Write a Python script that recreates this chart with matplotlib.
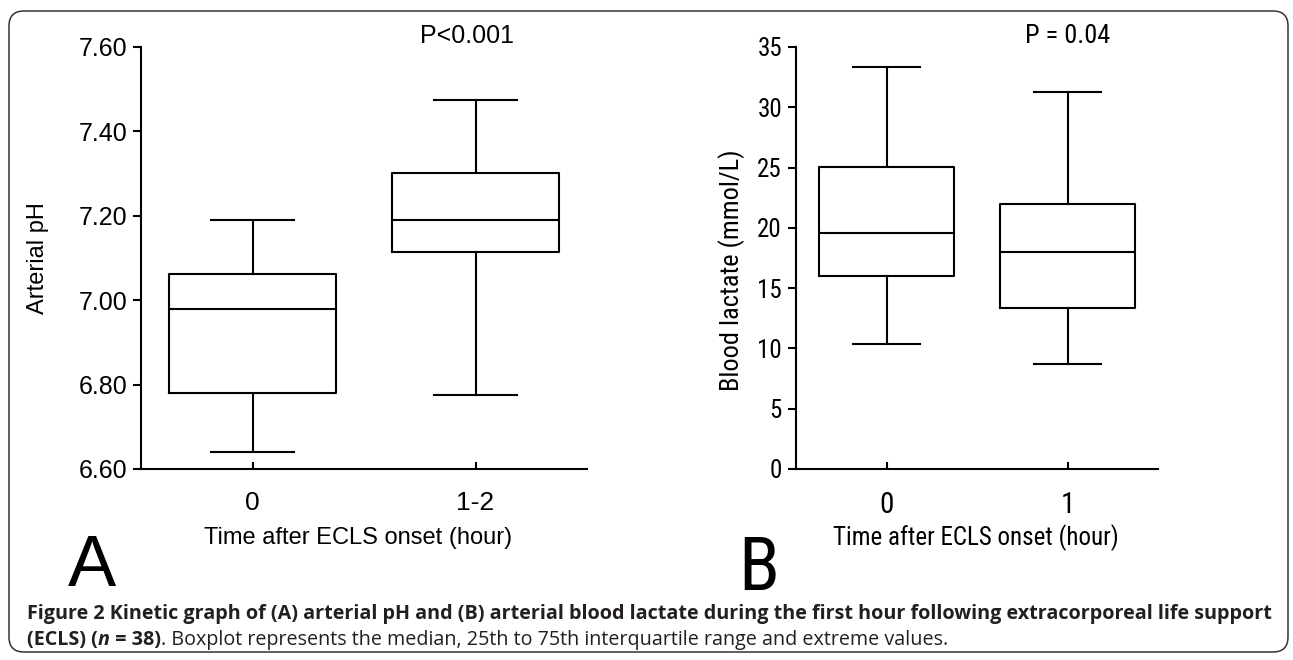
import matplotlib
matplotlib.use('Agg')
import matplotlib.pyplot as plt
from matplotlib import font_manager, transforms
from matplotlib.patches import FancyBboxPatch

# panel A: arterial pH
a_labels = ['0', '1-2']
a_med = [6.98, 7.19]
a_q1 = [6.78, 7.115]
a_q3 = [7.062, 7.302]
a_lo = [6.64, 6.775]
a_hi = [7.19, 7.475]
a_yticks = [6.6, 6.8, 7.0, 7.2, 7.4, 7.6]

# panel B: blood lactate
b_labels = ['0', '1']
b_med = [19.6, 18.0]
b_q1 = [16.0, 13.35]
b_q3 = [25.05, 22.0]
b_lo = [10.4, 8.7]
b_hi = [33.3, 31.3]
b_yticks = [0, 5, 10, 15, 20, 25, 30, 35]


def pick(*names):
    avail = {f.name for f in font_manager.fontManager.ttflist}
    for n in names:
        if n in avail:
            return n
    return 'DejaVu Sans'


sans = pick('Liberation Sans', 'Arial')
narrow = pick('Liberation Sans Narrow', 'Roboto Condensed', 'Liberation Sans')
capfont = pick('Open Sans', 'Noto Sans')

W, H = 1293, 660
fig = plt.figure(figsize=(W / 100, H / 100), dpi=100)


def px_axes(l, r, t, b):
    return fig.add_axes([l / W, 1 - b / H, (r - l) / W, (b - t) / H])


def draw_box(ax, labels, med, q1, q3, lo, hi, yticks, fmt, font, tsize, xsize):
    stats = []
    for i in range(len(labels)):
        stats.append(dict(med=med[i], q1=q1[i], q3=q3[i], whislo=lo[i], whishi=hi[i], fliers=[]))
    lp = dict(color='black', linewidth=1.5)
    ax.bxp(stats, positions=range(len(labels)), widths=0.75, capwidths=0.37,
           showfliers=False, boxprops=lp, whiskerprops=lp, capprops=lp,
           medianprops=lp, manage_ticks=False)
    ax.set_xlim(-0.5, 1.5)
    ax.set_ylim(yticks[0], yticks[-1])
    ax.set_yticks(yticks)
    ax.set_yticklabels([fmt % v for v in yticks], fontfamily=font, fontsize=tsize)
    ax.set_xticks(range(len(labels)))
    ax.set_xticklabels(labels, fontfamily=font, fontsize=xsize)
    ax.tick_params(axis='y', direction='out', length=6, width=1.5, pad=4)
    ax.tick_params(axis='x', direction='in', length=5, width=1.5, pad=16)
    for s in ['top', 'right']:
        ax.spines[s].set_visible(False)
    for s in ['left', 'bottom']:
        ax.spines[s].set_linewidth(1.5)
    ax.patch.set_alpha(0)


axA = px_axes(141, 587, 47, 469)
draw_box(axA, a_labels, a_med, a_q1, a_q3, a_lo, a_hi, a_yticks, '%.2f', sans, 18, 19)
axA.set_xlabel('Time after ECLS onset (hour)', fontfamily=sans, fontsize=17, va='center')
axA.xaxis.set_label_coords(0.487, -0.163)
axA.set_ylabel('Arterial pH', fontfamily=sans, fontsize=17, va='center')
axA.yaxis.set_label_coords(-0.231, 0.5)
axA.text(0.73, 1.025, 'P<0.001', transform=axA.transAxes, ha='center', va='center',
         fontfamily=sans, fontsize=18)

axB = px_axes(796, 1158, 47, 469)
draw_box(axB, b_labels, b_med, b_q1, b_q3, b_lo, b_hi, b_yticks, '%d', narrow, 18, 21)
axB.set_xlabel('Time after ECLS onset (hour)', fontfamily=narrow, fontsize=18, va='center')
axB.xaxis.set_label_coords(0.497, -0.163)
axB.set_ylabel('Blood lactate (mmol/L)', fontfamily=narrow, fontsize=19, va='center')
axB.yaxis.set_label_coords(-0.177, 0.47)
axB.text(0.749, 1.025, 'P = 0.04', transform=axB.transAxes, ha='center', va='center',
         fontfamily=narrow, fontsize=19)

fig.text(92 / W, 1 - 567 / H, 'A', fontfamily=sans, fontsize=52, ha='center', va='center')
fig.text(759 / W, 1 - 570 / H, 'B', fontfamily=narrow, fontsize=54, ha='center', va='center')

# rounded frame round the figure
frame = FancyBboxPatch((9, 8), 1279, 641, boxstyle='round,pad=0,rounding_size=15',
                       transform=transforms.IdentityTransform(), facecolor='none',
                       edgecolor='#333333', linewidth=1.1)
fig.add_artist(frame)

# caption
renderer = fig.canvas.get_renderer()
line1 = ('Figure 2 Kinetic graph of (A) arterial pH and (B) arterial blood lactate during '
         'the first hour following extracorporeal life support')
t1 = fig.text(27 / W, 1 - 614 / H, line1, fontfamily=capfont, fontweight='bold',
              fontsize=12, va='center', color='#231f20')
w = t1.get_window_extent(renderer).width
cap_size = 12 * 1245 / w
t1.set_fontsize(cap_size)

runs = [('(ECLS) (', 'bold', 'normal'), ('n', 'bold', 'italic'), (' = 38)', 'bold', 'normal'),
        ('. Boxplot represents the median, 25th to 75th interquartile range and extreme values.',
         'normal', 'normal')]
x = 27
for txt, wt, st in runs:
    t = fig.text(x / W, 1 - 640 / H, txt, fontfamily=capfont, fontweight=wt, fontstyle=st,
                 fontsize=cap_size, va='center', color='#231f20')
    x += t.get_window_extent(renderer).width

fig.savefig('out.png', dpi=100)
